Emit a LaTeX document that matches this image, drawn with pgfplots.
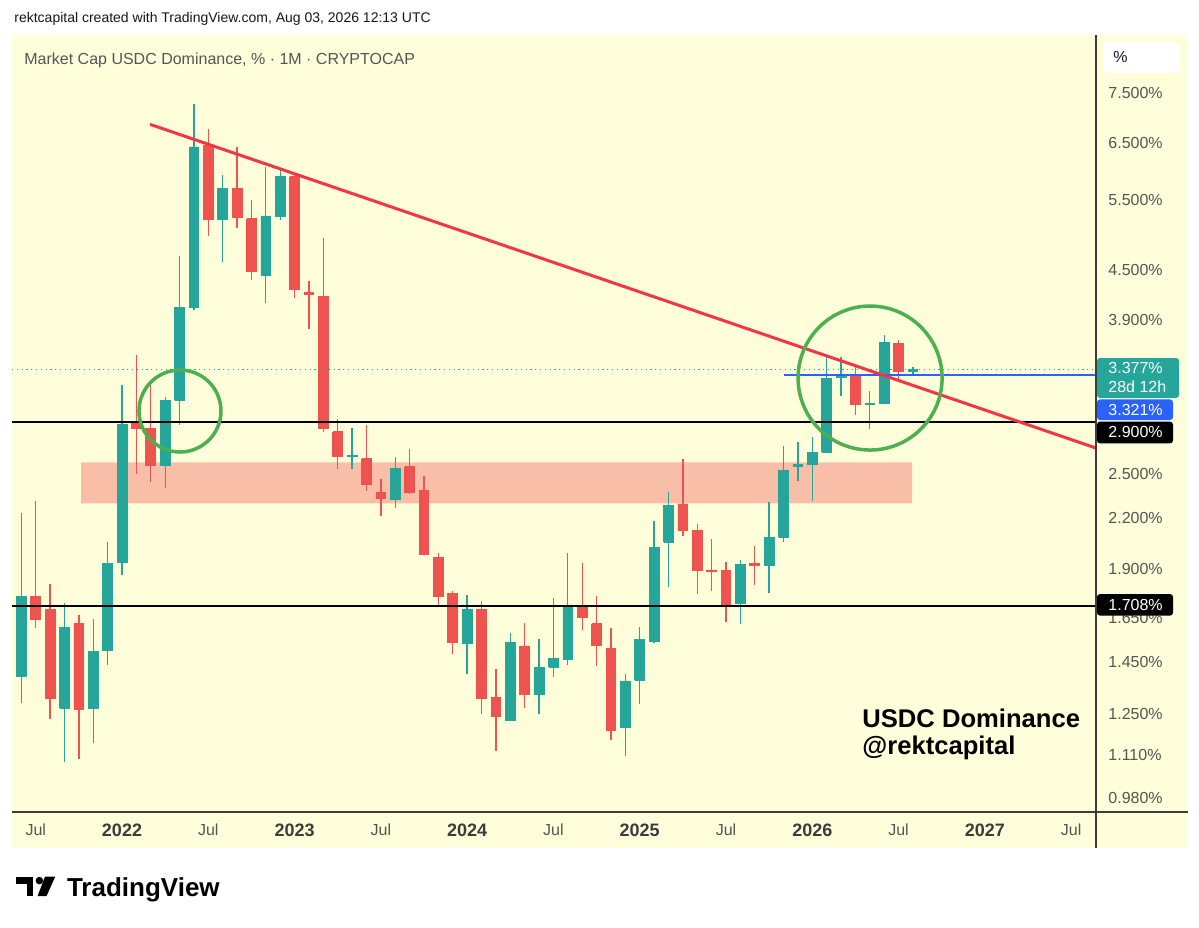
\documentclass[border=0pt]{standalone}
\usepackage{pgfplots}
\pgfplotsset{compat=1.18}
\usepackage{pgfplotstable}
\usepackage{fontspec}
\setmainfont{Liberation Sans}
\definecolor{cup}{RGB}{38,166,154}
\definecolor{cdown}{RGB}{239,83,80}
\definecolor{panel}{RGB}{255,254,219}
\definecolor{zone}{RGB}{249,190,168}
\definecolor{trend}{RGB}{242,54,69}
\definecolor{circ}{RGB}{76,175,80}
\definecolor{blueline}{RGB}{41,98,255}
\definecolor{txtgray}{RGB}{85,85,85}
\definecolor{yeargray}{RGB}{60,60,60}
\definecolor{dark}{RGB}{19,23,34}
\definecolor{sep}{RGB}{60,60,60}
\newcommand\fs[1]{\fontsize{#1}{#1}\selectfont}
\newcommand\yr[1]{\textcolor{yeargray}{\bfseries\fs{9pt}#1}}

% month index: 0 = Jan 2022
\pgfplotstableread{
m o h l c
-7 1.39 2.23 1.29 1.755
-6 1.755 2.31 1.60 1.64
-5 1.69 1.82 1.23 1.306
-4 1.269 1.719 1.088 1.604
-3 1.623 1.662 1.096 1.266
-2 1.269 1.641 1.147 1.495
-1 1.50 2.05 1.438 1.93
0 1.935 3.23 1.865 2.884
1 2.90 3.52 2.50 2.85
2 2.85 3.28 2.44 2.56
3 2.56 3.12 2.40 3.09
4 3.09 4.69 2.88 4.04
5 4.04 7.27 4.01 6.42
6 6.45 6.77 4.97 5.20
7 5.20 5.92 4.60 5.70
8 5.69 6.42 5.08 5.23
9 5.22 5.50 4.37 4.48
10 4.43 6.06 4.09 5.26
11 5.25 6.00 5.20 5.89
12 5.89 5.93 4.15 4.26
13 4.22 4.36 3.80 4.19
14 4.17 4.93 2.82 2.85
15 2.82 2.93 2.53 2.625
16 2.625 2.85 2.535 2.635
17 2.61 2.88 2.38 2.42
18 2.37 2.46 2.21 2.33
19 2.32 2.625 2.265 2.54
20 2.55 2.68 2.36 2.37
21 2.38 2.48 1.975 1.98
22 1.96 1.99 1.70 1.755
23 1.77 1.78 1.485 1.537
24 1.53 1.76 1.40 1.69
25 1.69 1.73 1.25 1.306
26 1.31 1.42 1.123 1.239
27 1.225 1.576 1.222 1.534
28 1.52 1.625 1.27 1.32
29 1.32 1.55 1.25 1.43
30 1.43 1.745 1.39 1.4665
31 1.46 1.99 1.44 1.71
32 1.71 1.93 1.59 1.65
33 1.62 1.755 1.435 1.524
34 1.51 1.60 1.16 1.19
35 1.20 1.40 1.106 1.374
36 1.377 1.607 1.285 1.549
37 1.54 2.18 1.535 2.02
38 2.05 2.37 1.80 2.28
39 2.29 2.605 2.09 2.12
40 2.12 2.16 1.765 1.888
41 1.893 2.067 1.78 1.885
42 1.89 1.935 1.63 1.715
43 1.72 1.95 1.62 1.925
44 1.93 2.03 1.81 1.92
45 1.92 2.305 1.77 2.08
46 2.08 2.71 2.05 2.52
47 2.555 2.74 2.45 2.565
48 2.565 2.78 2.31 2.66
49 2.66 3.52 2.65 3.29
50 3.30 3.50 3.13 3.32
51 3.32 3.43 2.96 3.055
52 3.05 3.17 2.84 3.065
53 3.065 3.73 3.055 3.65
54 3.645 3.675 3.26 3.355
55 3.355 3.40 3.33 3.377
}\candles

\begin{document}
\begin{tikzpicture}
\path[use as bounding box, fill=white] (0pt,0pt) rectangle (599.5pt,-463.5pt);
\fill[panel] (6pt,-17.5pt) rectangle (594pt,-424pt);
\begin{axis}[
  at={(6pt,-406pt)}, anchor=south west,
  scale only axis, width=542pt, height=388.5pt,
  xmin=-7.65, xmax=67.73,
  ymode=log, ymin=0.941, ymax=8.868,
  axis line style={draw=none},
  major tick length=0pt, minor tick length=0pt,
  ytick={0.98,1.11,1.25,1.45,1.65,1.9,2.2,2.5,3.9,4.5,5.5,6.5,7.5},
  yticklabels={0.980\%,1.110\%,1.250\%,1.450\%,1.650\%,1.900\%,2.200\%,2.500\%,3.900\%,4.500\%,5.500\%,6.500\%,7.500\%},
  yticklabel pos=right,
  yticklabel style={anchor=west, inner sep=0pt, xshift=6pt, font={\fs{8pt}}, text=txtgray},
  xtick={-6,0,...,66},
  xticklabels={Jul,\yr{2022},Jul,\yr{2023},Jul,\yr{2024},Jul,\yr{2025},Jul,\yr{2026},Jul,\yr{2027},Jul},
  xticklabel style={anchor=center, inner sep=0pt, yshift=-9pt, font={\fs{8pt}}, text=txtgray},
]
\addplot[fill=zone, draw=none, forget plot] coordinates {(-2.85,2.5825) (54.94,2.5825) (54.94,2.294) (-2.85,2.294) (-2.85,2.5825)};

\pgfplotstablegetrowsof{\candles}
\pgfmathtruncatemacro{\Nrows}{\pgfplotsretval-1}
\pgfplotsforeachungrouped \i in {0,...,\Nrows}{%
  \pgfplotstablegetelem{\i}{m}\of\candles \let\cm\pgfplotsretval
  \pgfplotstablegetelem{\i}{o}\of\candles \let\co\pgfplotsretval
  \pgfplotstablegetelem{\i}{h}\of\candles \let\ch\pgfplotsretval
  \pgfplotstablegetelem{\i}{l}\of\candles \let\cl\pgfplotsretval
  \pgfplotstablegetelem{\i}{c}\of\candles \let\cc\pgfplotsretval
  \pgfmathsetmacro\xa{\cm-0.34}%
  \pgfmathsetmacro\xb{\cm+0.34}%
  \ifdim\cc pt<\co pt \def\ccol{cdown}\else\def\ccol{cup}\fi
  \edef\temp{\noexpand\addplot[draw=\ccol, line width=0.65pt, forget plot] coordinates {(\cm,\cl) (\cm,\ch)};
    \noexpand\addplot[fill=\ccol, draw=\ccol, line width=0.4pt, forget plot] coordinates {(\xa,\co) (\xb,\co) (\xb,\cc) (\xa,\cc) (\xa,\co)};}%
  \temp
}

\addplot[cup, line width=0.6pt, dash pattern=on 0.6pt off 1.8pt, forget plot] coordinates {(-7.65,3.377) (67.73,3.377)};
\addplot[black, line width=1pt, forget plot] coordinates {(-7.65,2.9) (67.73,2.9)};
\addplot[black, line width=1pt, forget plot] coordinates {(-7.65,1.708) (67.73,1.708)};
\addplot[blueline, line width=0.8pt, forget plot] coordinates {(46,3.321) (67.73,3.321)};
\addplot[trend, line width=1.5pt, forget plot] coordinates {(1.947,6.852) (67.73,2.691)};
\draw[circ, line width=1.75pt] (axis cs:4.03,2.995) circle[radius=20.5pt];
\draw[circ, line width=1.75pt] (axis cs:52.02,3.294) circle[radius=36pt];
\end{axis}

% separators
\draw[sep, line width=0.6pt] (548pt,-17.5pt) -- (548pt,-424pt);
\draw[sep, line width=0.8pt] (6pt,-406pt) -- (594pt,-406pt);

% right price labels
\fill[cup, rounded corners=1.5pt] (548.5pt,-179pt) rectangle (589.5pt,-199pt);
\node[anchor=west, inner sep=0pt, text=white, font={\fs{8pt}}] at (554pt,-184pt) {3.377\%};
\node[anchor=west, inner sep=0pt, text=white, font={\fs{8pt}}] at (554pt,-193.5pt) {28d 12h};
\fill[blueline, rounded corners=1.5pt] (548.5pt,-199.7pt) rectangle (586.5pt,-210pt);
\node[anchor=west, inner sep=0pt, text=white, font={\fs{8pt}}] at (554pt,-204.8pt) {3.321\%};
\fill[black, rounded corners=1.5pt] (548.5pt,-210.8pt) rectangle (586.5pt,-221.7pt);
\node[anchor=west, inner sep=0pt, text=white, font={\fs{8pt}}] at (554pt,-216.2pt) {2.900\%};
\fill[black, rounded corners=1.5pt] (548.5pt,-297pt) rectangle (586.5pt,-307.8pt);
\node[anchor=west, inner sep=0pt, text=white, font={\fs{8pt}}] at (554pt,-302.4pt) {1.708\%};

% percent box
\fill[white, rounded corners=3pt] (551.5pt,-21pt) rectangle (590pt,-36.5pt);
\node[anchor=west, inner sep=0pt, text=dark, font={\fs{8pt}}] at (556.5pt,-28.7pt) {\%};

% header texts
\node[anchor=base west, inner sep=0pt, text=dark, font={\fs{7pt}}] at (7pt,-11.3pt) {rektcapital created with TradingView.com, Aug 03, 2026 12:13 UTC};
\node[anchor=base west, inner sep=0pt, text=txtgray, font={\fs{8pt}}] at (12pt,-32pt) {Market Cap USDC Dominance, \% · 1M · CRYPTOCAP};

% watermark
\node[anchor=base west, inner sep=0pt, text=black, font={\bfseries\fs{12.8pt}}] at (431pt,-363.5pt) {USDC Dominance};
\node[anchor=base west, inner sep=0pt, text=black, font={\bfseries\fs{12.8pt}}] at (431pt,-377pt) {@rektcapital};

% TradingView logo
\fill[black] (8pt,-438.3pt) rectangle (16.5pt,-442pt);
\fill[black] (13.3pt,-438.3pt) rectangle (16.5pt,-448pt);
\fill[black] (19.7pt,-440.3pt) circle[radius=1.9pt];
\fill[black] (22.5pt,-438.3pt) -- (27.6pt,-438.3pt) -- (23.3pt,-448pt) -- (18.8pt,-448pt) -- cycle;
\node[anchor=base west, inner sep=0pt, text=black, font={\bfseries\fs{13pt}}] at (33.3pt,-448pt) {TradingView};
\end{tikzpicture}
\end{document}
